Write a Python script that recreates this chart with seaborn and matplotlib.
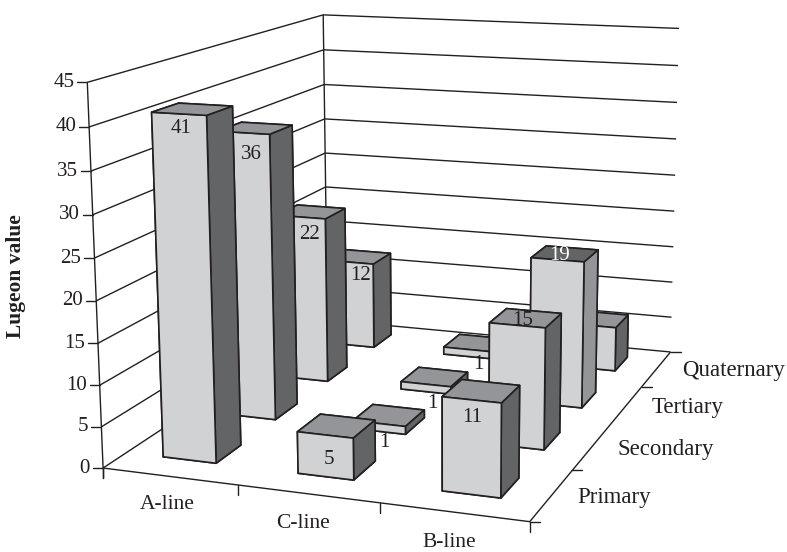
import numpy as np
import seaborn as sns
import matplotlib
matplotlib.use("Agg")
import matplotlib.pyplot as plt
from matplotlib.lines import Line2D
from matplotlib.transforms import IdentityTransform
from mpl_toolkits.mplot3d import proj3d

# Lugeon values per grouting line and hole stage
line_names = ["A-line", "C-line", "B-line"]
stage_names = ["Primary", "Secondary", "Tertiary", "Quaternary"]
a_line = [41, 36, 22, 12]
c_line = [5, 1, 1, 1]
b_line = [11, 15, 19, 6]
z_ticks = [0, 5, 10, 15, 20, 25, 30, 35, 40, 45]

# pixel offset of each value label from the top front centre of its bar; None = not labelled
a_offsets = [(2, 15), (8, 22), (9, 17), (10, 13)]
c_offsets = [(4, 25), (5, 19), (6, 19), (11, 15)]
b_offsets = [(1, 18), (5, -5), (2, -4), None]

# bar placement inside each category cell
line_starts = [0.28, 0.285, 0.305]
stage_start = 0.34
bar_w, bar_d = 0.40, 0.40

# pixel offsets of the category names along the front edge
line_label_dx = [-2, -5, -5]
line_label_dy = [28, 30, 30]

INK = "#231f20"
LIGHT, MID, DARK = "#d1d2d4", "#939598", "#636466"

sns.set_theme(style="white")
plt.rcParams["font.family"] = ["Liberation Serif", "DejaVu Serif"]

W, H = 787, 552
fig = plt.figure(figsize=(W / 100, H / 100), dpi=100, facecolor="white")
side = 752.4
ax = fig.add_axes([25.45 / W, -66.73 / H, side / W, side / H], projection="3d", computed_zorder=False)
ax.set_xlim(0, 3, view_margin=0)
ax.set_ylim(0, 4, view_margin=0)
ax.set_zlim(0, 45, view_margin=0)
ax.view_init(elev=12.83, azim=-70.03, roll=0.24)
ax.set_proj_type("persp", focal_length=0.4855)
ax.set_box_aspect((1.1428, 1.5195, 1))
ax.set_axis_off()
ax.patch.set_visible(False)

M = ax.get_proj()


def to_pixels(x, y, z):
    u, v, _ = proj3d.proj_transform(x, y, z, M)
    return ax.transData.transform((u, v))


def tick(x, y, z, dx, dy):
    px, py = to_pixels(x, y, z)
    fig.add_artist(Line2D([px, px + dx], [py, py + dy], color=INK, lw=1.0,
                          transform=IdentityTransform()))


def label(px, py, text, **kw):
    kw.setdefault("color", INK)
    kw.setdefault("fontsize", 15)
    fig.text(px, py, text, transform=IdentityTransform(), **kw)


line_kw = dict(color=INK, lw=1.0, zorder=1, solid_capstyle="butt")

# wall gridlines and the back corner
for z in z_ticks:
    ax.plot([0, 0, 3], [0, 4, 4], [z, z, z], **line_kw)
ax.plot([0, 0], [4, 4], [0, 45], **line_kw)
ax.plot([0, 0], [0, 0], [0, 45], **line_kw)

# floor edges
ax.plot([0, 3, 3], [0, 0, 4], [0, 0, 0], **line_kw)

# bars, painted from the far corner towards the viewer
order = 2
for j in range(3, -1, -1):
    for i, series in enumerate([a_line, c_line, b_line]):
        top, right = MID, DARK
        if i == 2 and j == 2:
            top, right = DARK, MID
        faces = [LIGHT, top, LIGHT, LIGHT, LIGHT, right]
        ax.bar3d([i + line_starts[i]], [j + stage_start], [0], bar_w, bar_d, series[j], color=faces,
                 shade=False, edgecolor=INK, linewidth=1.2, zorder=order)
        order += 1

# tick marks
for z in z_ticks:
    tick(0, 0, z, -10, 0)
tick(0, 0, 0, 0, -10)
for i in range(4):
    tick(i, 0, 0, 0, -10)
for j in [0, 1, 3, 4]:
    tick(3, j, 0, 10, 0)

# axis labels
for z in z_ticks:
    px, py = to_pixels(0, 0, z)
    label(px - 13, py, str(z), ha="right", va="center")
for i, name in enumerate(line_names):
    px, py = to_pixels(i + 0.5, 0, 0)
    label(px + line_label_dx[i], py - line_label_dy[i], name, ha="center", va="center", fontsize=15.5)
for j, name in enumerate(stage_names):
    px, py = to_pixels(3, j + 0.5, 0)
    label(px + 26, py - 2, name, ha="left", va="center", fontsize=16.5)
fig.text(16.5 / W, 1 - 276 / H, "Lugeon value", rotation=90, ha="center", va="center",
         fontsize=15.5, fontweight="bold", color=INK)

# value labels
for i, (series, offsets) in enumerate(zip([a_line, c_line, b_line], [a_offsets, c_offsets, b_offsets])):
    for j, (value, off) in enumerate(zip(series, offsets)):
        if off is None:
            continue
        px, py = to_pixels(i + line_starts[i] + bar_w / 2, j + stage_start, value)
        label(px + off[0], py - off[1], str(value), ha="center", va="center",
              color="white" if (i, j) == (2, 2) else INK)

fig.savefig("out.png", dpi=100, facecolor="white")
